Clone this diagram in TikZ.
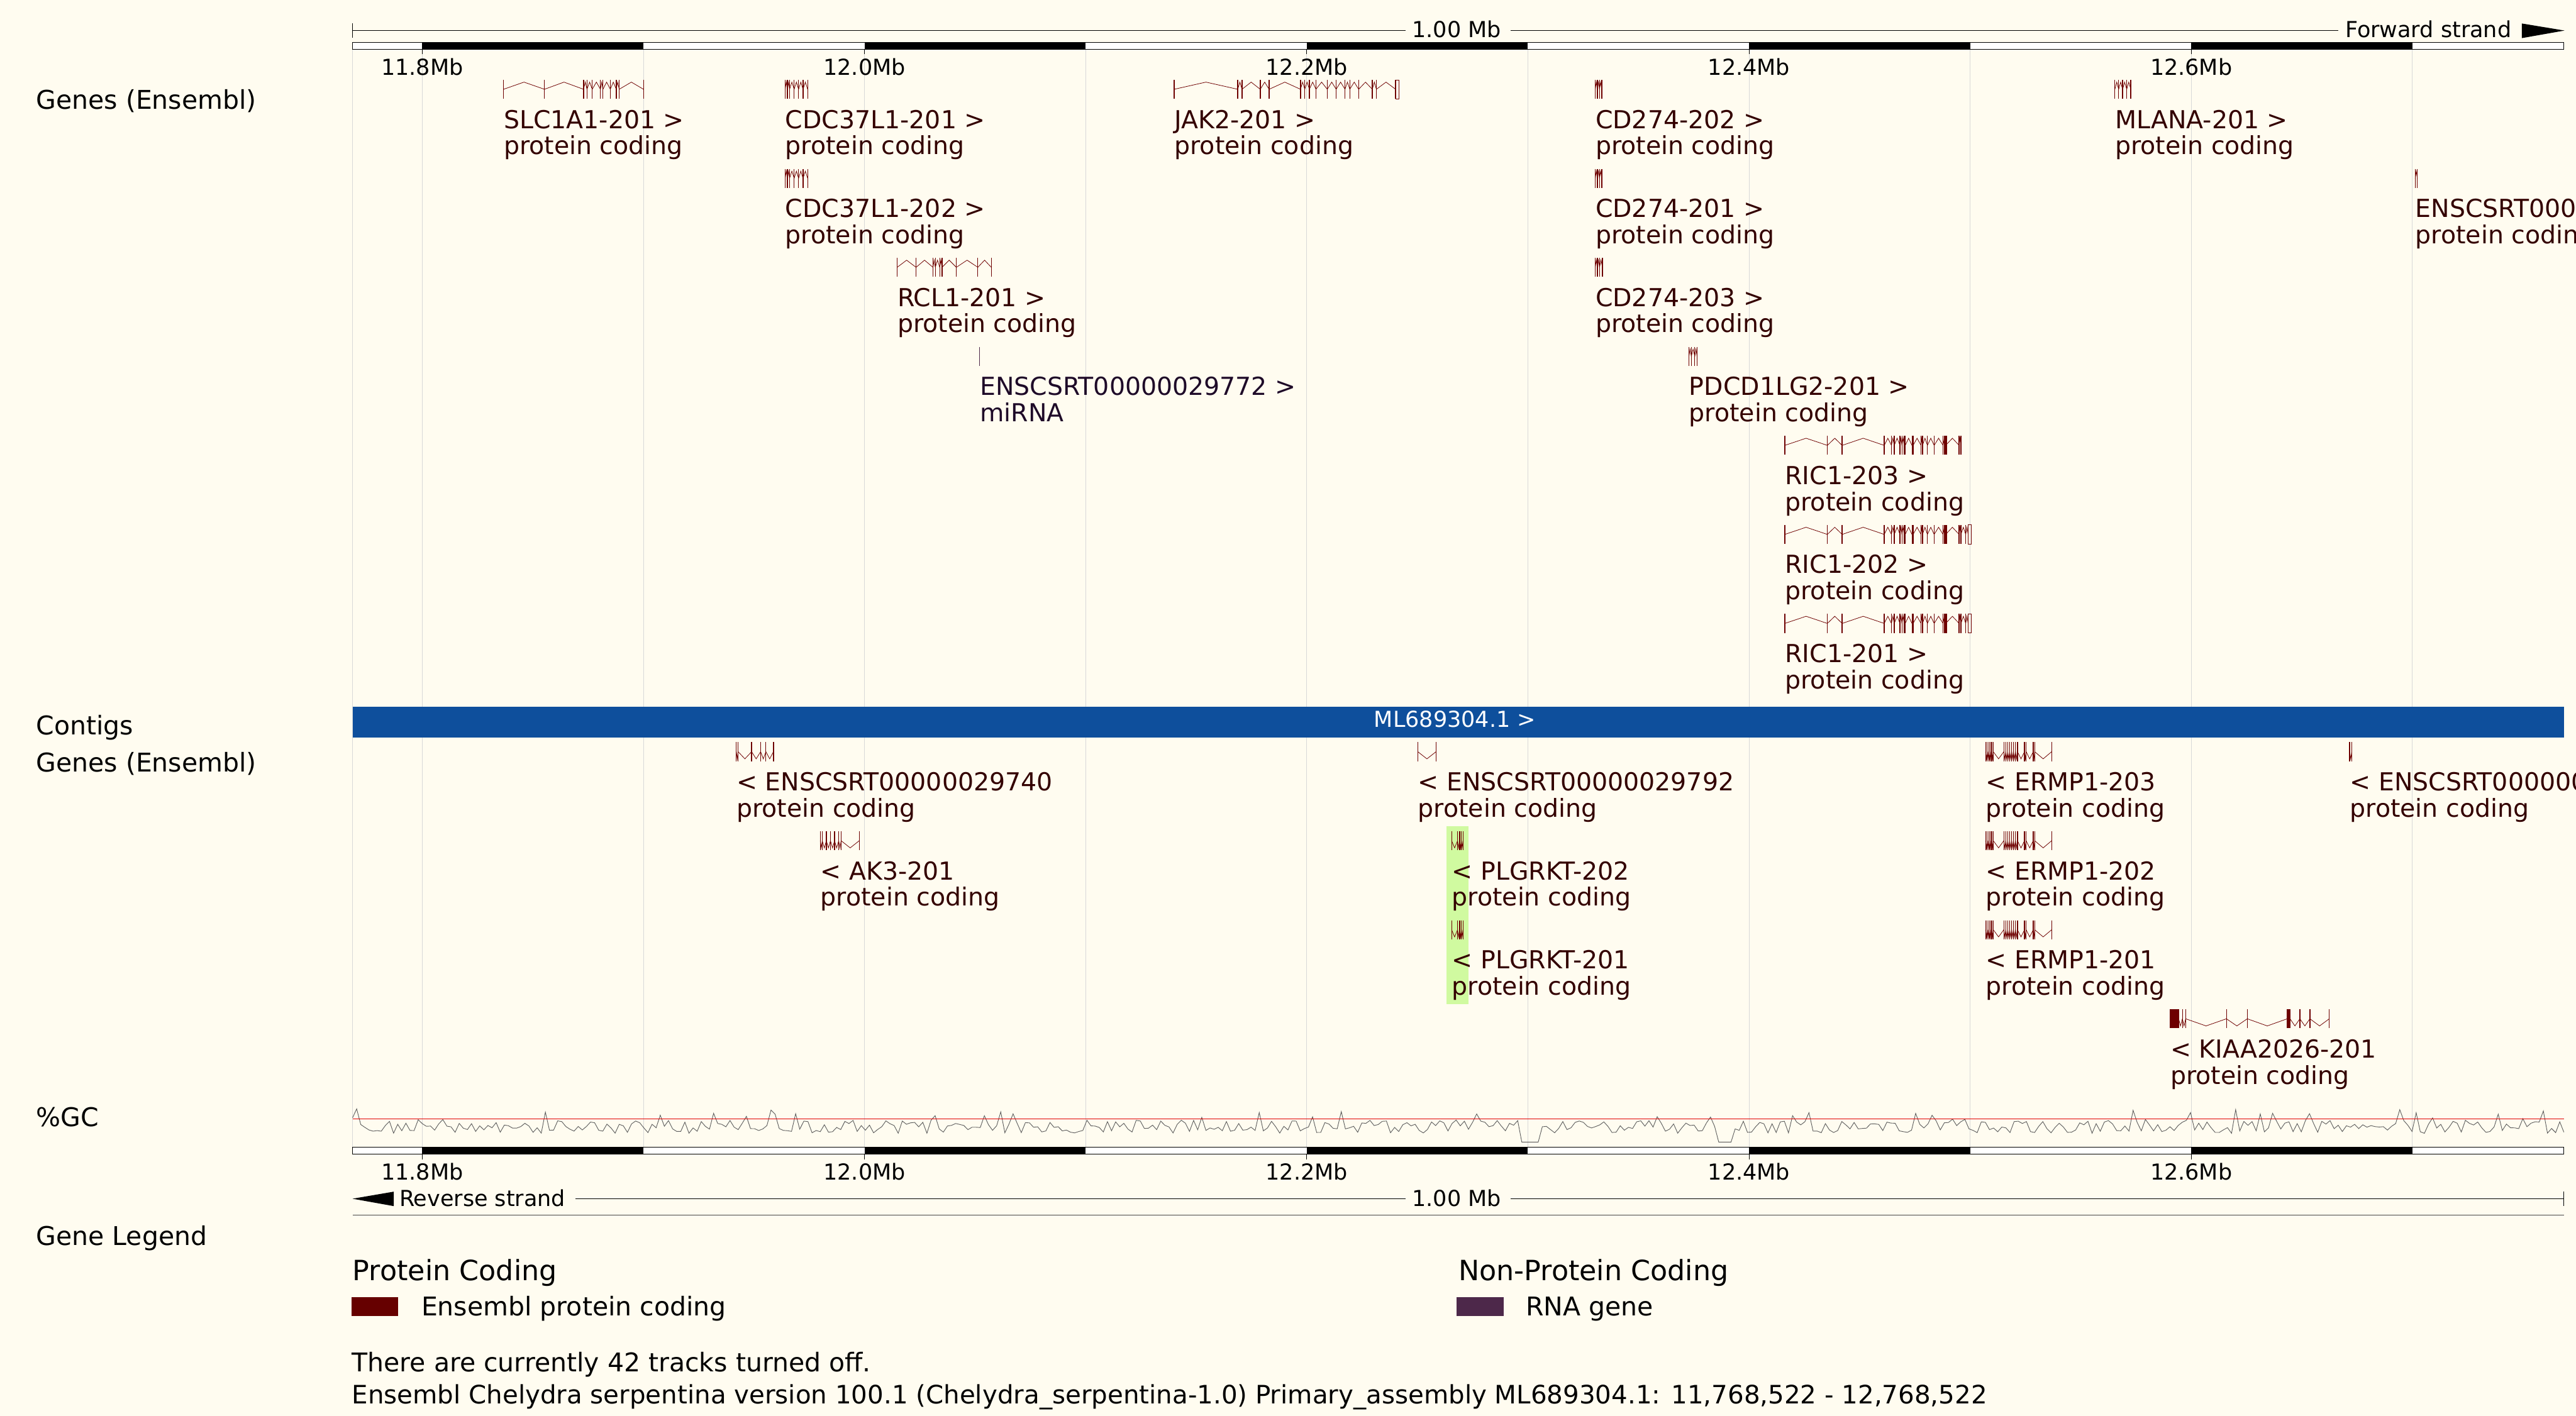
\documentclass[tikz,border=0pt]{standalone}
\usepackage{fontspec}
\setmainfont{DejaVu Sans}

\definecolor{pagebg}{RGB}{255,252,240}
\definecolor{genered}{RGB}{110,0,0}
\definecolor{genelabel}{RGB}{51,0,0}
\definecolor{legendred}{RGB}{102,0,0}
\definecolor{rnapurple}{RGB}{77,40,74}
\definecolor{rnalabel}{RGB}{30,10,40}
\definecolor{contigblue}{RGB}{14,79,156}
\definecolor{gridgrey}{RGB}{216,216,216}
\definecolor{hlgreen}{RGB}{208,250,160}
\definecolor{gcgrey}{RGB}{95,95,95}
\definecolor{gcred}{RGB}{225,0,0}

% exon ticks with hat-shaped introns: top y, intron peak offset, first exon, other exons
\newcommand{\genebody}[4]{%
  \draw[exon] (#3,#1) -- ++(0,11.5);
  \foreach \ex [remember=\ex as \lastex (initially #3)] in {#4} {
    \draw[exon] (\ex,#1) -- ++(0,11.5);
    \draw[intron] (\lastex,#1+5.75) -- ({(\lastex+\ex)/2},#1+#2) -- (\ex,#1+5.75);
  }%
}
% two line label: name, x, baseline, transcript, biotype
\newcommand{\genelabel}[5]{%
  \node[genetext] (#1) at (#2,#3) {#4};
  \node[genetext] (#1-type) at (#2,#3+16) {#5};%
}

\begin{document}
\begin{tikzpicture}[x=1pt,y=-1pt,
    gridline/.style={draw=gridgrey,line width=0.3pt},
    ruler/.style={draw=black,line width=0.35pt},
    exon/.style={draw=genered,line width=0.5pt},
    intron/.style={draw=genered,line width=0.3pt},
    genetext/.style={anchor=base west,inner sep=0pt,text=genelabel,font=\fontsize{15.1}{16}\selectfont},
    tracklabel/.style={anchor=base west,inner sep=0pt,font=\fontsize{15.7}{17}\selectfont},
    rulertext/.style={anchor=base,inner sep=0pt,font=\fontsize{13.4}{15}\selectfont}]

    \clip (0,0) rectangle (1568,862);
    \fill[pagebg] (0,0) rectangle (1568,862);

    % grid
    \draw[gridline] (214.6,30) -- (214.6,698.5);
    \foreach \i in {0,...,10}
        \draw[gridline] ({257+\i*134.6},30) -- ({257+\i*134.6},698.5);

    % top ruler
    \coordinate (topL) at (214.6,18.6);
    \node[rulertext] (topsize) at (886.7,22.9) {1.00 Mb};
    \node[rulertext] (fwd) at (1478.1,22.9) {Forward strand};
    \draw[ruler] (214.6,14.3) -- (214.6,23);
    \draw[ruler] (topL) -- ([xshift=-4pt]topsize.west |- topL);
    \draw[ruler] ([xshift=5.5pt]topsize.east |- topL) -- ([xshift=-4pt]fwd.west |- topL);
    \fill (1535,14.3) -- (1561,18.6) -- (1535,23.2) -- cycle;

    % scale bars
    \foreach \yb in {25.7,698.5} {
        \draw[ruler,fill=white] (214.6,\yb) rectangle (1560.6,\yb+4.3);
        \foreach \i in {0,2,...,8}
            \fill ({257+\i*134.6},\yb) rectangle ++(134.6,4.3);
    }
    \foreach \m/\lab in {0/11.8Mb,2/12.0Mb,4/12.2Mb,6/12.4Mb,8/12.6Mb} {
        \draw[ruler] ({257+\m*134.6},30) -- ++(0,3);
        \node[rulertext] (top\m) at ({257+\m*134.6},45.6) {\lab};
        \draw[ruler] ({257+\m*134.6},702.8) -- ++(0,3);
        \node[rulertext] (bot\m) at ({257+\m*134.6},718.4) {\lab};
    }

    % track names
    \node[tracklabel] (fgenes) at (21.8,66.6) {Genes (Ensembl)};
    \node[tracklabel] (contigs) at (21.8,447.2) {Contigs};
    \node[tracklabel] (rgenes) at (21.8,470) {Genes (Ensembl)};
    \node[tracklabel] (gc) at (21.8,685.7) {\%GC};
    \node[tracklabel] (legend) at (21.8,758.3) {Gene Legend};

    % forward strand genes
    \genebody{48.6}{1.4}{306.5}{331.4,355.2,357.3,360.5,365.5,367.0,371.5,375.1,376.9,391.7}
    \genelabel{slc1a1}{306.5}{78.1}{SLC1A1-201 >}{protein coding}
    \genebody{48.6}{1.4}{477.9}{479.3,480.6,483.4,486.1,488.8,491.6}
    \genelabel{cdcA}{477.9}{78.1}{CDC37L1-201 >}{protein coding}
    \genebody{48.6}{1.4}{714.7}{753.4,756.0,767.1,772.5,791.6,794.2,797.0,801.0,807.9,813.3,818.7,821.6,827.0,835.3,837.8,849.5}
    \draw[intron] (849.5,48.6) rectangle (851.6,60.1);
    \genelabel{jak2}{714.7}{78.1}{JAK2-201 >}{protein coding}
    \genebody{48.6}{1.4}{971.0}{972.3,973.6,975.0}
    \genelabel{cdA}{971.0}{78.1}{CD274-202 >}{protein coding}
    \genebody{48.6}{1.4}{1287.3}{1289.6,1292.0,1294.5,1297.0}
    \genelabel{mlana}{1287.3}{78.1}{MLANA-201 >}{protein coding}

    \genebody{102.8}{1.4}{477.9}{479.3,480.6,483.4,486.1,488.8,491.6}
    \genelabel{cdcB}{477.9}{132.3}{CDC37L1-202 >}{protein coding}
    \genebody{102.8}{1.4}{971.0}{972.3,973.6,975.0}
    \genelabel{cdB}{971.0}{132.3}{CD274-201 >}{protein coding}
    \genebody{102.8}{1.4}{1470.1}{1471.4}
    \genelabel{ensF}{1470.1}{132.3}{ENSCSRT0000}{protein coding}

    \genebody{157.0}{1.4}{546.1}{557.6,567.9,569.3,572.0,573.4,582.1,595.2,603.4}
    \genelabel{rcl1}{546.1}{186.5}{RCL1-201 >}{protein coding}
    \genebody{157.0}{1.4}{971.0}{972.3,973.6,975.4}
    \genelabel{cdC}{971.0}{186.5}{CD274-203 >}{protein coding}

    \draw[draw=rnapurple,line width=0.3pt] (596.3,211.2) -- ++(0,11.5);
    \node[genetext,text=rnalabel] (mirna) at (596.3,240.7) {ENSCSRT00000029772 >};
    \node[genetext,text=rnalabel] (mirna-type) at (596.3,256.7) {miRNA};
    \genebody{211.2}{1.4}{1028.0}{1029.5,1031.6,1033.0}
    \genelabel{pdcd1lg2}{1028.0}{240.7}{PDCD1LG2-201 >}{protein coding}

    \genebody{265.4}{1.4}{1086.4}{1112.3,1121.3,1146.9,1151.3,1153.0,1156.5,1157.7,1159.1,1159.7,1163.8,1164.5,1169.3,1170.2,1173.2,1177.3,1182.7,1184.3,1192.5,1193.6}
    \fill[genered] (1183.4,265.4) rectangle (1185.3,276.9);
    \genelabel{ric1c}{1086.4}{294.9}{RIC1-203 >}{protein coding}
    \foreach \t/\n/\lab in {319.6/ric1b/RIC1-202 >,373.8/ric1a/RIC1-201 >} {
        \genebody{\t}{1.4}{1086.4}{1112.3,1121.3,1146.9,1151.3,1153.0,1156.5,1157.7,1159.1,1159.7,1163.8,1164.5,1169.3,1170.2,1173.2,1177.3,1182.7,1184.3,1192.5,1193.6,1196.5,1198.0}
        \fill[genered] (1183.4,\t) rectangle (1185.3,\t+11.5);
        \draw[intron] (1198.0,\t) rectangle (1199.9,\t+11.5);
        \genelabel{\n}{1086.4}{\t+29.5}{\lab}{protein coding}
    }

    % contig
    \fill[contigblue] (214.6,430.4) rectangle (1560.6,449);
    \node[rulertext,text=white] (contig) at (885.6,442.9) {ML689304.1 >};

    % reverse strand genes
    \fill[hlgreen] (880.6,503.1) rectangle (893.7,557.3);
    \fill[hlgreen] (880.6,557.3) rectangle (893.9,611.5);

    \genebody{451.9}{10.1}{448.2}{449.3,457.5,463.0,466.2,470.8}
    \genelabel{ens740}{448.2}{481.4}{< ENSCSRT00000029740}{protein coding}
    \genebody{451.9}{10.1}{863.0}{874.1}
    \genelabel{ens792}{863.0}{481.4}{< ENSCSRT00000029792}{protein coding}
    \genebody{451.9}{10.1}{1430.2}{1431.5}
    \genelabel{ensR}{1430.2}{481.4}{< ENSCSRT000000}{protein coding}
    \foreach \t/\n/\lab in {451.9/ermpC/< ERMP1-203,506.1/ermpB/< ERMP1-202,560.3/ermpA/< ERMP1-201} {
        \genebody{\t}{10.1}{1208.6}{1209.6,1210.5,1211.5,1212.4,1213.3,1219.7,1220.9,1222.1,1223.3,1224.5,1225.6,1226.8,1228.0,1232.3,1233.3,1237.6,1238.5,1248.8}
        \genelabel{\n}{1208.6}{\t+29.5}{\lab}{protein coding}
    }

    \genebody{506.1}{10.1}{499.3}{500.5,503.0,505.5,508.0,510.5,512.0,523.0}
    \genelabel{ak3}{499.3}{535.6}{< AK3-201}{protein coding}
    \foreach \t/\n/\lab in {506.1/plgB/< PLGRKT-202,560.3/plgA/< PLGRKT-201} {
        \genebody{\t}{10.1}{883.6}{887.2,888.5,889.5,890.5}
        \genelabel{\n}{883.6}{\t+29.5}{\lab}{protein coding}
    }

    \genebody{614.5}{10.1}{1320.9}{1326.1,1328.4,1330.4,1355.2,1367.9,1392.2,1393.9,1399.9,1406.0,1417.8}
    \fill[genered] (1320.9,614.5) rectangle (1326.1,626);
    \fill[genered] (1392.2,614.5) rectangle (1393.9,626);
    \genelabel{kiaa}{1320.9}{644.0}{< KIAA2026-201}{protein coding}

    % GC content
    \pgfmathsetseed{1234}
    \draw[gcgrey,line width=0.35pt] plot[domain=214.6:1560.6,samples=540]
        (\x,{ifthenelse(or(and(\x>926,\x<938.5),and(\x>1044,\x<1054)),695.3,686+4*rand-7*(rnd>0.9))});
    \draw[gcred,line width=0.4pt] (214.6,681.1) -- (1560.6,681.1);

    % bottom ruler
    \coordinate (botL) at (214.6,729.8);
    \coordinate (botR) at (1560.6,729.8);
    \fill (239.7,725.5) -- (botL) -- (239.7,734.3) -- cycle;
    \node[rulertext] (rev) at (293.7,734.5) {Reverse strand};
    \node[rulertext] (botsize) at (886.7,734.5) {1.00 Mb};
    \draw[ruler] ([xshift=6pt]rev.east |- botL) -- ([xshift=-4pt]botsize.west |- botL);
    \draw[ruler] ([xshift=5.5pt]botsize.east |- botL) -- (botR);
    \draw[ruler] (1560.6,725.3) -- (1560.6,734.3);
    \draw[draw={rgb,255:red,70;green,70;blue,70},line width=0.5pt] (214.6,739.7) -- (1560.6,739.7);

    % legend
    \node[tracklabel,font=\fontsize{17}{19}\selectfont] (pchead) at (214.5,779.7) {Protein Coding};
    \node[tracklabel,font=\fontsize{17}{19}\selectfont] (npchead) at (887.6,779.7) {Non-Protein Coding};
    \fill[legendred] (213.8,789.6) rectangle (242.5,801.2);
    \node[tracklabel] (pctext) at (256.3,801) {Ensembl protein coding};
    \fill[rnapurple] (886.5,789.6) rectangle (915.3,801.2);
    \node[tracklabel] (rnatext) at (928.6,801) {RNA gene};

    \node[tracklabel] (tracksoff) at (214,835.2) {There are currently 42 tracks turned off.};
    \node[tracklabel,font=\fontsize{15.45}{17}\selectfont] (assembly) at (214,854.7) {Ensembl Chelydra serpentina version 100.1 (Chelydra\_serpentina-1.0) Primary\_assembly ML689304.1: 11,768,522 - 12,768,522};
\end{tikzpicture}
\end{document}
